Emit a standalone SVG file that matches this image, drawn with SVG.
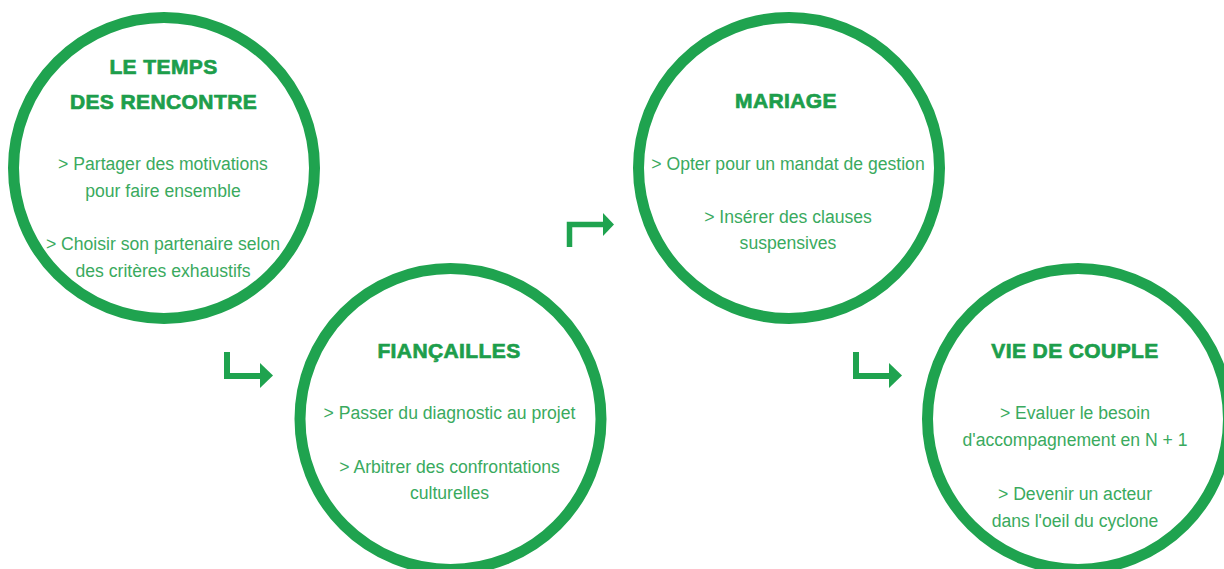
<svg xmlns="http://www.w3.org/2000/svg" width="1224" height="569" viewBox="0 0 1224 569">
<style>
.ring{fill:#fff;stroke:#1fa34f;stroke-width:11}
.title{font-family:"Liberation Sans",Arial,sans-serif;font-weight:bold;font-size:21px;letter-spacing:0.4px;fill:#1d9e4b;stroke:#1d9e4b;stroke-width:0.7;text-anchor:middle}
.body{font-family:"Liberation Sans",Arial,sans-serif;font-size:17.6px;fill:#3aaa5e;text-anchor:middle}
.conn{fill:none;stroke:#1fa34f;stroke-width:6}
.head{fill:#1fa34f}
</style>
<rect width="1224" height="569" fill="#fff"/>
<g id="node-rencontre">
<circle class="ring" cx="164" cy="168" r="150.5"/>
<text class="title" x="163.5" y="74">LE TEMPS</text>
<text class="title" x="163.5" y="109">DES RENCONTRE</text>
<text class="body" x="163" y="170">&gt; Partager des motivations</text>
<text class="body" x="163" y="197">pour faire ensemble</text>
<text class="body" x="163" y="250">&gt; Choisir son partenaire selon</text>
<text class="body" x="163" y="277">des critères exhaustifs</text>
</g>
<g id="node-fiancailles">
<circle class="ring" cx="450.5" cy="419" r="150.5"/>
<text class="title" x="449" y="358">FIANÇAILLES</text>
<text class="body" x="449.5" y="419">&gt; Passer du diagnostic au projet</text>
<text class="body" x="449.5" y="473">&gt; Arbitrer des confrontations</text>
<text class="body" x="449.5" y="499">culturelles</text>
</g>
<g id="node-mariage">
<circle class="ring" cx="789" cy="168" r="150.5"/>
<text class="title" x="786" y="108">MARIAGE</text>
<text class="body" x="788" y="170">&gt; Opter pour un mandat de gestion</text>
<text class="body" x="788" y="223">&gt; Insérer des clauses</text>
<text class="body" x="788" y="249">suspensives</text>
</g>
<g id="node-vie-de-couple">
<circle class="ring" cx="1078" cy="419" r="150.5"/>
<text class="title" x="1075" y="358">VIE DE COUPLE</text>
<text class="body" x="1075" y="419">&gt; Evaluer le besoin</text>
<text class="body" x="1075" y="446">d'accompagnement en N + 1</text>
<text class="body" x="1075" y="500">&gt; Devenir un acteur</text>
<text class="body" x="1075" y="527">dans l'oeil du cyclone</text>
</g>
<g id="connectors">
<path class="conn" d="M227,352 V376 H261"/>
<polygon class="head" points="260,363 273,375.5 260,388"/>
<path class="conn" d="M569.5,247 V224.5 H604" style="stroke-width:5.5"/>
<polygon class="head" points="603,213 614,224.5 603,236"/>
<path class="conn" d="M856,352 V376 H890"/>
<polygon class="head" points="889,363 902,375.5 889,388"/>
</g>
</svg>
